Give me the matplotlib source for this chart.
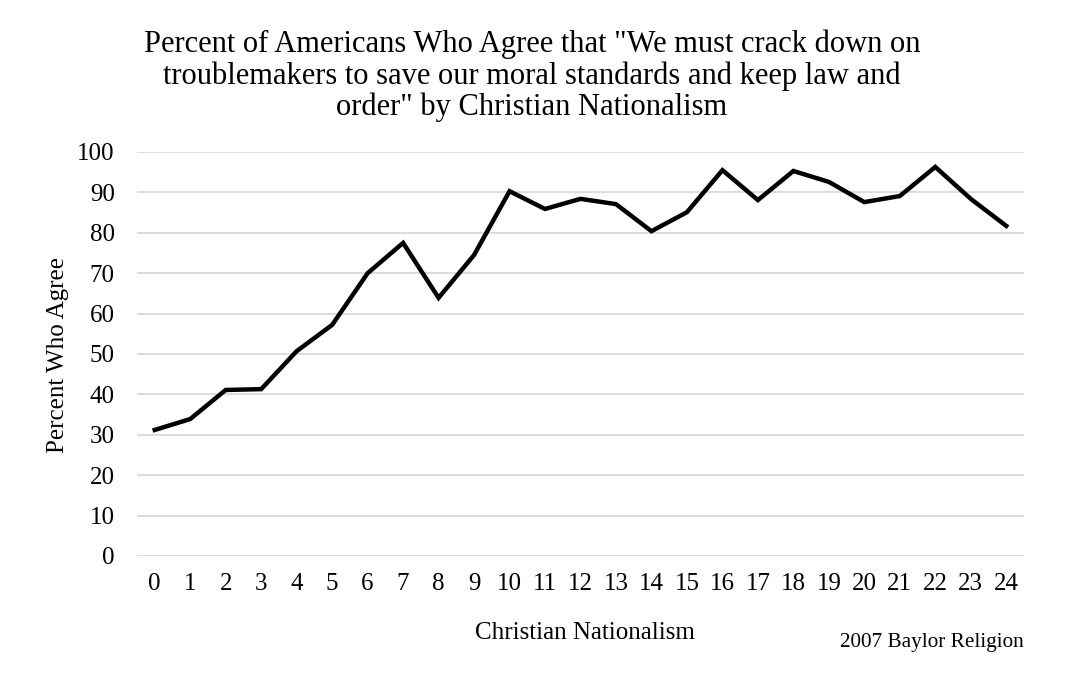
import matplotlib
matplotlib.use("Agg")
import matplotlib.pyplot as plt

x_labels = [str(i) for i in range(25)]
values = [31.2, 33.9, 41.1, 41.3, 50.7, 57.2, 70.0, 77.5, 63.9, 74.5, 90.3, 85.9,
          88.4, 87.1, 80.4, 85.1, 95.5, 88.1, 95.3, 92.6, 87.6, 89.1, 96.3, 88.4, 81.7]
y_ticks = list(range(0, 101, 10))

plt.rcParams['font.family'] = ['Liberation Serif', 'DejaVu Serif']

fig = plt.figure(figsize=(10.8, 6.74), dpi=100)
ax = fig.add_axes([137/1080, 1-556/674, (1024-137)/1080, (556-152)/674])

xs = list(range(len(values)))
ax.plot(xs, values, color='black', linewidth=3.2, solid_joinstyle='miter')
ax.set_xlim(-0.5, 24.5)
ax.set_ylim(0, 100)
ax.set_yticks(y_ticks)
ax.set_xticks(xs)
ax.set_xticklabels(x_labels)
ax.grid(axis='y', color='#d9d9d9', linewidth=1.3)
ax.set_axisbelow(True)
for s in ax.spines.values():
    s.set_visible(False)
ax.tick_params(axis='both', length=0, labelsize=18, colors='black')
ax.tick_params(axis='x', pad=12)
ax.tick_params(axis='y', pad=16)

fig.text(58/1080, 1-355/674, 'Percent Who Agree', fontsize=18, rotation=90,
         ha='center', va='center')
fig.text(585/1080, 1-633/674, 'Christian Nationalism', fontsize=18, ha='center', va='center')
fig.text(1024/1080, 1-642/674, '2007 Baylor Religion', fontsize=15.3, ha='right', va='center')

fig.text(532/1080, 1-76/674,
         'Percent of Americans Who Agree that "We must crack down on\n'
         'troublemakers to save our moral standards and keep law and\n'
         'order" by Christian Nationalism',
         fontsize=22, ha='center', va='center', linespacing=1.08)

fig.savefig('out.png', dpi=100)
